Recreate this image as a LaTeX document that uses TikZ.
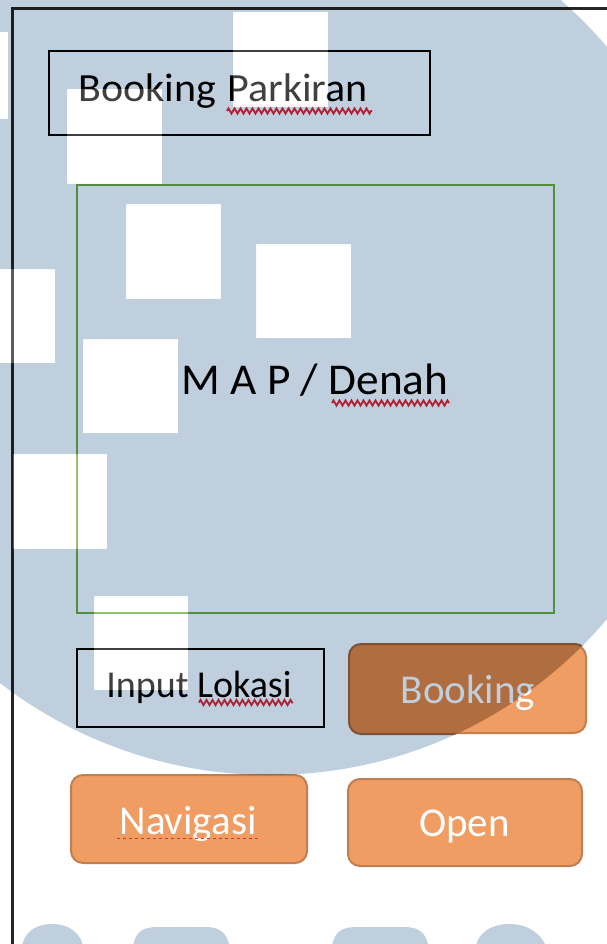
\documentclass[tikz,border=0pt]{standalone}
\usepackage{fontspec}
\setmainfont{Carlito}
\usetikzlibrary{decorations.pathmorphing}
\definecolor{framegray}{HTML}{262626}
\definecolor{mapgreen}{HTML}{70AD47}
\definecolor{btnfill}{HTML}{F09D63}
\definecolor{btnedge}{HTML}{C07F50}
\definecolor{btndeep}{HTML}{EB874A}
\definecolor{btndeepedge}{HTML}{A8643A}
\definecolor{spellred}{HTML}{E8283C}
\definecolor{markblue}{HTML}{BFCFDD}
\begin{document}
\begin{tikzpicture}[x=1pt,y=-1pt,
  box/.style={draw=black, line width=2.4pt, inner sep=0pt},
  mapbox/.style={draw=mapgreen, line width=2.4pt, inner sep=0pt},
  button/.style={draw=btnedge, fill=btnfill, line width=2pt, rounded corners=12pt, inner sep=0pt},
  label/.style={inner sep=0pt, anchor=base, text=black},
  btnlabel/.style={inner sep=0pt, anchor=base, text=white},
  squiggle/.style={draw=spellred, line width=1.8pt, decorate,
    decoration={zigzag, segment length=6pt, amplitude=2.6pt}},
  bigfont/.style={font=\fontsize{40}{48}\selectfont},
  btnfont/.style={font=\fontsize{41}{49}\selectfont},
]
\fill[white] (0,0) rectangle (606,944);
\useasboundingbox (0,0) rectangle (606,944);

% outer frame of the screen
\draw[framegray, line width=3pt] (12.5,950) -- (12.5,8.5) -- (612,8.5);

% header box
\node[box, minimum width=381pt, minimum height=84pt] (titlebox) at (239.5,93) {};
\node[label, anchor=base west, bigfont] (titletext) at (78,102)
  {\scalebox{1.05}[1]{Booking\hspace{11pt}Parkiran}};

% map area
\node[mapbox, minimum width=477pt, minimum height=428pt] (mapbox) at (315.5,399) {};
\node[label, font=\fontsize{44}{52}\selectfont] (maptext) at (315,394)
  {\scalebox{1.03}[1]{M A P / Denah}};

% location input
\node[box, minimum width=247pt, minimum height=78pt] (inputbox) at (200.5,688) {};
\node[label, font=\fontsize{38}{46}\selectfont] (inputtext) at (199,697) {Input Lokasi};

% buttons
\node[button, minimum width=236pt, minimum height=88pt] (bookbtn) at (468,689) {};
\begin{scope}
  \clip (270,333) circle[radius=442];
  \draw[btndeepedge, fill=btndeep, line width=2pt, rounded corners=12pt]
    (bookbtn.north west) rectangle (bookbtn.south east);
\end{scope}
\node[btnlabel, btnfont] (booktext) at (468,703) {Booking};
\node[button, minimum width=236pt, minimum height=88pt] (navbtn) at (189,819) {};
\node[btnlabel, btnfont] (navtext) at (188,834) {Navigasi};
\node[button, minimum width=234pt, minimum height=87pt] (openbtn) at (465,822.5) {};
\node[btnlabel, btnfont] (opentext) at (464.5,836) {Open};

% spell-check underlines
\draw[squiggle] (227,111) -- (372,111);
\draw[squiggle] (332,403) -- (449,403);
\draw[squiggle] (199,702.5) -- (293,702.5);
\draw[spellred, line width=1.5pt, dash pattern=on 3pt off 3pt] (117,838.5) -- (260,838.5);

% logo watermark
\begin{scope}[blend mode=multiply]
  \fill[markblue, even odd rule] (270,333) circle[radius=442]
    (233,12) rectangle (328,107)
    (67,89) rectangle (162,184)
    (126,204) rectangle (221,299)
    (256,244) rectangle (351,338)
    (83,339) rectangle (178,433)
    (-40,269) rectangle (55,363)
    (-80,32) rectangle (8,119)
    (13,454) rectangle (107,549)
    (94,596) rectangle (188,690);
  \fill[markblue] (22,950) -- (23,942) .. controls (27,930) and (38,924) .. (52,924)
    .. controls (66,924) and (77,930) .. (82,942) -- (83,950) -- cycle;
  \fill[markblue] (132,950) -- (134,942) .. controls (137,931) and (144,927) .. (158,927)
    -- (205,927) .. controls (219,927) and (226,932) .. (229,944) -- (230,950) -- cycle;
  \fill[markblue] (331,950) -- (333,942) .. controls (336,931) and (343,927) .. (357,927)
    -- (404,927) .. controls (418,927) and (425,932) .. (428,944) -- (429,950) -- cycle;
  \fill[markblue] (475,950) -- (477,942) .. controls (482,930) and (494,924) .. (510,924)
    .. controls (526,924) and (539,932) .. (545,944) -- (546,950) -- cycle;
\end{scope}
\fill[white, fill opacity=0.25]
    (233,12) rectangle (328,107)
    (67,89) rectangle (162,184)
    (126,204) rectangle (221,299)
    (256,244) rectangle (351,338)
    (83,339) rectangle (178,433)
    (-40,269) rectangle (55,363)
    (-80,32) rectangle (8,119)
    (13,454) rectangle (107,549)
    (94,596) rectangle (188,690);
\end{tikzpicture}
\end{document}
